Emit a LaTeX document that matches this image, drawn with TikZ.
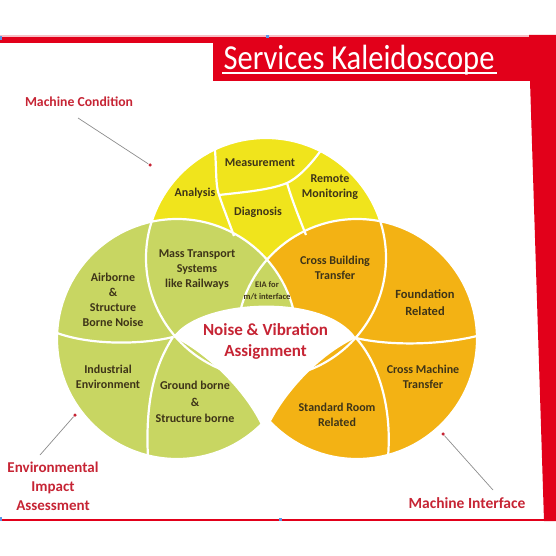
\documentclass[tikz,border=0pt]{standalone}
\usepackage{fontspec}
\setmainfont{Carlito}
\usepackage[dvipsnames]{xcolor}
\usetikzlibrary{positioning}

\definecolor{kred}{RGB}{226,0,26}
\definecolor{kyellow}{RGB}{240,228,28}
\definecolor{kgreen}{RGB}{200,214,98}
\definecolor{korange}{RGB}{243,178,20}
\definecolor{ktext}{RGB}{62,52,24}
\definecolor{klabel}{RGB}{198,36,52}
\definecolor{kblue}{RGB}{90,150,230}

\begin{document}
\begin{tikzpicture}[x=1pt,y=-1pt,thick,
    seg/.style={draw=white,line width=2.2pt},
    main node/.style={font=\bfseries\fontsize{12}{15}\selectfont,text=ktext,align=center,inner sep=0pt},
    small node/.style={font=\bfseries\fontsize{8.5}{12}\selectfont,text=ktext,align=center,inner sep=0pt},
    side node/.style={font=\bfseries\fontsize{14}{19}\selectfont,text=klabel,align=center,inner sep=0pt},
    pin dot/.style={circle,fill=klabel,inner sep=0pt,minimum size=3.5pt},
    pointer/.style={draw=black!45,line width=0.7pt}]
    \useasboundingbox (0,0) rectangle (556,556);

    \fill[kred!25] (0,35) rectangle (529,37);
    \fill[kred] (0,37) rectangle (530,43);
    \fill[kred] (213,37) rectangle (530,81);
    \fill[kred] (529,35) -- (556,35) -- (556,521) -- (544,521) -- (530,81) -- cycle;
    \fill[kred] (0,518.5) rectangle (544,521);
    \fill[kblue] (0,36) rectangle (2,40);
    \fill[kblue] (265.5,35.5) rectangle (268.5,38.5);
    \fill[kblue] (0,516.5) rectangle (2,520.5);
    \fill[kblue] (278.5,517.5) rectangle (281.5,520.5);

    \node[text=white,anchor=base,inner sep=0pt,font=\fontsize{30.5}{30}\selectfont] (title) at (359,70) {\scalebox{1}[1.15]{Services Kaleidoscope}};
    \draw[white,line width=1.3pt] (222,73) -- (497,73);

    \fill[kyellow] (266,258) circle (120);
    \fill[korange] (357,339) circle (120);
    \fill[kgreen] (177,339) circle (120);
    \fill[white] (173,337) .. controls (200,298) and (325,292) .. (356,338)
        .. controls (325,352) and (290,385) .. (270,423) -- (266,445) -- (262,427)
        .. controls (245,390) and (205,352) .. (173,337) -- cycle;

    \draw[seg] (266,258) circle (120);
    \draw[seg] (357,339) circle (120);
    \draw[seg] (177,339) circle (120);
    \draw[seg] (214,140) .. controls (217,165) and (215,185) .. (219,195)
        .. controls (224,210) and (229,222) .. (234,236);
    \draw[seg] (219,195) .. controls (245,192) and (270,190) .. (287,183)
        .. controls (300,177) and (315,160) .. (326,143);
    \draw[seg] (287,183) .. controls (292,200) and (298,215) .. (306,235);
    \draw[seg] (57,333) .. controls (90,345) and (140,345) .. (173,337);
    \draw[seg] (173,337) .. controls (155,365) and (145,400) .. (148,458);
    \draw[seg] (356,338) .. controls (390,346) and (440,345) .. (477,336);
    \draw[seg] (356,338) .. controls (380,365) and (392,410) .. (388,457);

    \node[main node] (meas) at (260,163) {Measurement};
    \node[main node] (anal) at (195,193) {Analysis};
    \node[main node] (remote) at (330,187) {Remote\\Monitoring};
    \node[main node] (diag) at (258,212) {Diagnosis};
    \node[main node] (mass) at (197,270) {Mass Transport\\Systems\\like Railways};
    \node[small node] (eia) at (267,291) {EIA for\\m/t interface};
    \node[main node] (cbt) at (335,268) {Cross Building\\Transfer};
    \node[main node] (air) at (113,300) {Airborne\\\&\\Structure\\Borne Noise};
    \node[main node,font=\bfseries\fontsize{12.5}{17}\selectfont] (found) at (425,303) {Foundation\\Related};
    \node[main node] (ind) at (108,377) {Industrial\\Environment};
    \node[main node,font=\bfseries\fontsize{12}{16.5}\selectfont] (ground) at (195,402) {Ground borne\\\&\\Structure borne};
    \node[main node] (cmt) at (423,377) {Cross Machine\\Transfer};
    \node[main node] (std) at (337,415) {Standard Room\\Related};
    \node[side node,font=\bfseries\fontsize{17}{21}\selectfont] (nva) at (265.5,341) {Noise \& Vibration\\Assignment};

    \node[side node,font=\bfseries\fontsize{13.7}{16}\selectfont] (mc) at (79,102) {Machine Condition};
    \node[side node,font=\bfseries\fontsize{15}{19}\selectfont] (env) at (53,486) {Environmental\\Impact\\Assessment};
    \node[side node,font=\bfseries\fontsize{15.5}{19}\selectfont] (mi) at (467,503) {Machine Interface};

    \node[pin dot] (mcdot) at (150,165) {};
    \node[pin dot] (envdot) at (75,415) {};
    \node[pin dot] (midot) at (443,434) {};
    \coordinate (mctail) at (78,118);
    \coordinate (envtail) at (40,455);
    \coordinate (mitail) at (493,490);
    \draw[pointer] (mctail) -- (mcdot);
    \draw[pointer] (envtail) -- (envdot);
    \draw[pointer] (mitail) -- (midot);
\end{tikzpicture}
\end{document}
